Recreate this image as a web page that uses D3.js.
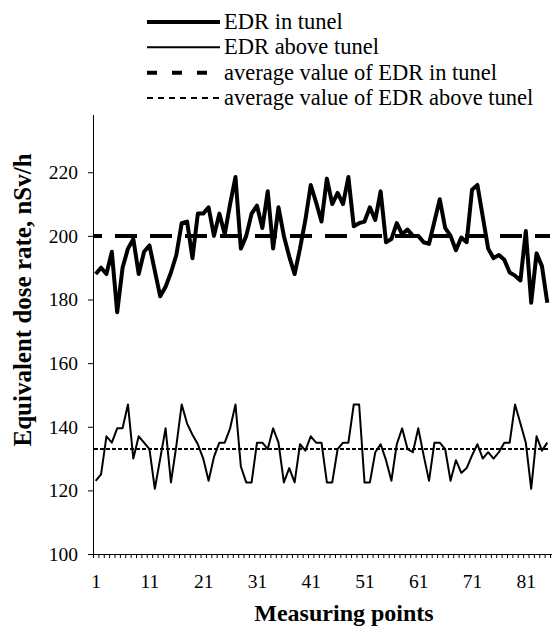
<!DOCTYPE html>
<html>
<head>
<meta charset="utf-8">
<script src="https://cdn.jsdelivr.net/npm/d3@7"></script>
<style>
  html, body { margin: 0; padding: 0; background: #fff; }
  svg { display: block; }
</style>
</head>
<body>
<svg id="chart" width="552" height="628"></svg>
<script>
// ---- data ----
const edrInTunel = [188, 190, 188, 195, 176, 190, 196, 199, 188, 195,
  197, 189, 181, 184, 188.5, 194, 204, 204.5, 193, 207,
  207, 209, 200, 207, 200.5, 210, 218.5, 196, 200, 207,
  209.5, 202.5, 214, 196, 209, 200, 193.5, 188, 196, 205,
  216, 210.5, 204.5, 218, 210, 213.5, 210, 218.5, 203, 204,
  204.5, 209, 205, 214, 198, 199, 204, 200.5, 202, 200,
  200, 198, 197.5, 204.5, 211.5, 202.5, 200, 195.5, 199.5, 198,
  214.5, 216, 206, 196, 193, 194, 192.5, 188.5, 187.5, 186,
  201.5, 179, 194.5, 190.5, 179];
const edrAboveTunel = [123, 125, 137, 135, 139.5, 139.5, 147, 130, 137, 135,
  133, 120.5, 130, 139.5, 122.5, 134, 147, 141, 137.5, 134.5,
  130, 123, 130.5, 135, 135, 139.5, 147, 127.5, 122.5, 122.5,
  135, 135, 133, 139.5, 135, 122.5, 127, 122.5, 134.5, 132.5,
  137, 135, 135, 122.5, 122.5, 133, 135, 135, 147, 147,
  122.5, 122.5, 132, 134.5, 129.5, 123, 134.5, 139.5, 133, 132,
  139.5, 131, 123, 135, 135, 133, 123, 129.5, 125.5, 127,
  131, 134.5, 130, 132, 130, 132, 135, 135, 147, 141,
  135, 120.5, 137, 132.5, 135];
const avgInTunel = 200;
const avgAboveTunel = 133;
const measuringPoints = d3.range(1, edrInTunel.length + 1);
const yTickValues = [100, 120, 140, 160, 180, 200, 220];
const xTickLabels = [1, 11, 21, 31, 41, 51, 61, 71, 81];
const legendLabels = ["EDR in tunel", "EDR above tunel",
  "average value of EDR in tunel", "average value of EDR above tunel"];
const yTitle = "Equivalent dose rate, nSv/h";
const xTitle = "Measuring points";

// ---- layout ----
const FONT = "'Liberation Serif', 'Times New Roman', Times, serif";
const svg = d3.select("#chart").style("font-family", FONT);
const plot = { left: 93, right: 550, top: 115, bottom: 554 };

const x = d3.scaleLinear()
  .domain([0.5, measuringPoints.length + 0.5])
  .range([plot.left, plot.right]);
const y = d3.scaleLinear()
  .domain([100, 238])
  .range([plot.bottom, plot.top]);

const styles = [
  { width: 4, dash: null, offset: 0, legendDash: null },
  { width: 2, dash: null, offset: 0, legendDash: null },
  { width: 4, dash: "22,13", offset: 14, legendDash: "10,15" },
  { width: 2, dash: "4,2", offset: 0, legendDash: "6,5" }
];

// ---- axes ----
const xMinor = d3.axisBottom(x)
  .tickValues(d3.range(0.5, measuringPoints.length + 1, 1))
  .tickSize(4)
  .tickFormat("");
const gxMinor = svg.append("g")
  .attr("transform", `translate(0,${plot.bottom})`)
  .call(xMinor);
gxMinor.select(".domain").attr("d", `M${plot.left},0.5H552`);

const xLab = d3.axisBottom(x)
  .tickValues(xTickLabels)
  .tickSize(0)
  .tickPadding(20.5)
  .tickFormat(d3.format("d"));
const gxLab = svg.append("g")
  .attr("transform", `translate(0,${plot.bottom})`)
  .call(xLab);
gxLab.select(".domain").remove();

const yAxis = d3.axisLeft(y)
  .tickValues(yTickValues)
  .tickSize(5)
  .tickPadding(10)
  .tickFormat(d3.format("d"));
const gy = svg.append("g")
  .attr("transform", `translate(${plot.left},0)`)
  .call(yAxis);
gy.select(".domain").attr("d", `M0.5,${plot.top}V${plot.bottom}`);

svg.selectAll("g").attr("font-family", null).attr("font-size", null);
svg.selectAll(".tick text")
  .style("font-family", FONT)
  .style("font-size", "19.5px")
  .attr("fill", "#000");
svg.selectAll(".domain, .tick line").attr("stroke", "#000").attr("stroke-width", 1);

// ---- series ----
const line = d3.line()
  .x((d, i) => x(measuringPoints[i]))
  .y(d => y(d));

svg.append("path")
  .datum(edrInTunel)
  .attr("fill", "none")
  .attr("stroke", "#000")
  .attr("stroke-width", styles[0].width)
  .attr("stroke-linejoin", "round")
  .attr("d", line);

svg.append("path")
  .datum(edrAboveTunel)
  .attr("fill", "none")
  .attr("stroke", "#000")
  .attr("stroke-width", styles[1].width)
  .attr("stroke-linejoin", "round")
  .attr("d", line);

const avgLines = [
  { v: avgInTunel, s: styles[2] },
  { v: avgAboveTunel, s: styles[3] }
];
svg.selectAll(".avg")
  .data(avgLines)
  .enter().append("line")
  .attr("class", "avg")
  .attr("x1", x(0.5) + 1)
  .attr("x2", x(measuringPoints.length + 0.5))
  .attr("y1", d => y(d.v))
  .attr("y2", d => y(d.v))
  .attr("stroke", "#000")
  .attr("stroke-width", d => d.s.width)
  .attr("stroke-dasharray", d => d.s.dash)
  .attr("stroke-dashoffset", d => d.s.offset);

// ---- legend ----
const leg = svg.append("g");
const legRows = legendLabels.map((t, i) => ({ t, s: styles[i], i }));
const rowY = d3.scaleLinear().domain([0, 3]).range([22, 98]);
leg.selectAll("line")
  .data(legRows)
  .enter().append("line")
  .attr("x1", 147)
  .attr("x2", 220)
  .attr("y1", d => rowY(d.i))
  .attr("y2", d => rowY(d.i))
  .attr("stroke", "#000")
  .attr("stroke-width", d => d.s.width)
  .attr("stroke-dasharray", d => d.s.legendDash);
leg.selectAll("text")
  .data(legRows)
  .enter().append("text")
  .attr("x", 224)
  .attr("y", d => rowY(d.i) + 7)
  .style("font-family", FONT)
  .style("font-size", "22.5px")
  .attr("fill", "#000")
  .text(d => d.t);

// ---- titles ----
svg.append("text")
  .attr("transform", `translate(31,300) rotate(-90)`)
  .attr("text-anchor", "middle")
  .style("font-family", FONT)
  .style("font-size", "25px")
  .style("font-weight", "bold")
  .text(yTitle);

svg.append("text")
  .attr("x", 344)
  .attr("y", 621)
  .attr("text-anchor", "middle")
  .style("font-family", FONT)
  .style("font-size", "24px")
  .style("font-weight", "bold")
  .text(xTitle);
</script>
</body>
</html>
